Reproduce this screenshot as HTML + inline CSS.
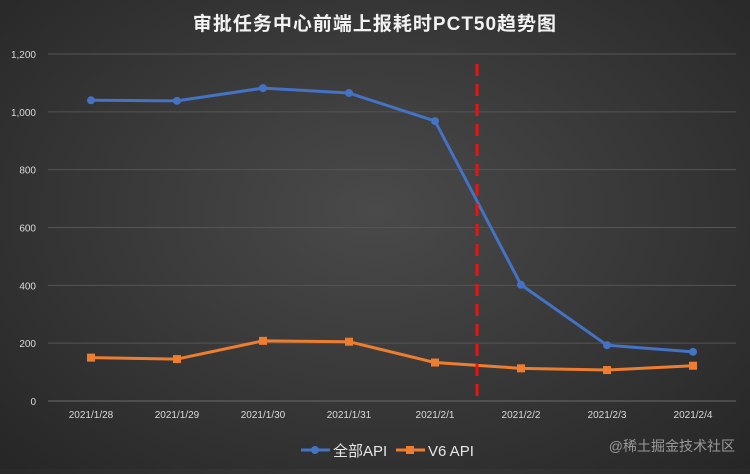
<!DOCTYPE html>
<html><head><meta charset="utf-8"><style>
html,body{margin:0;padding:0;}
body{width:750px;height:469px;overflow:hidden;background:radial-gradient(ellipse at 50% 45%,#4a4a4a 0%,#3a3a3a 45%,#262626 100%);font-family:"Liberation Sans","Noto Sans CJK SC",sans-serif;}
svg text{font-family:"Liberation Sans","Noto Sans CJK SC",sans-serif;}
</style></head><body>
<svg id="chart" width="750" height="469">
<text x="375" y="30" fill="#f2f2f2" font-size="19" font-weight="bold" text-anchor="middle" style="letter-spacing:1px">审批任务中心前端上报耗时PCT50趋势图</text>
<g id="grid"></g><g id="xl"></g><g id="series"></g>
<line x1="477" y1="64" x2="477" y2="401" stroke="#ee1111" stroke-width="3" stroke-dasharray="12,8"/>
<g>
<g>
<line x1="301" y1="450" x2="330" y2="450" stroke="#4472c4" stroke-width="3"/><circle cx="315" cy="450" r="4" fill="#4472c4"/>
<text x="333" y="456" fill="#e6e6e6" font-size="15">全部API</text></g>
<g>
<line x1="396" y1="450" x2="425" y2="450" stroke="#ed7d31" stroke-width="3"/><rect x="406" y="446" width="8" height="8" fill="#ed7d31"/>
<text x="428" y="456" fill="#e6e6e6" font-size="15">V6 API</text></g>
</g>
<text x="735" y="451" fill="#9a9a9a" font-size="14" text-anchor="end">@稀土掘金技术社区</text>
</svg>
<script>
const categories=["2021/1/28","2021/1/29","2021/1/30","2021/1/31","2021/2/1","2021/2/2","2021/2/3","2021/2/4"];
const allApi=[1040,1038,1082,1065,968,402,193,170];
const v6Api=[150,145,208,205,133,113,107,122];
const yTicks=[0,200,400,600,800,1000,1200];
const yTickLabels=["0","200","400","600","800","1,000","1,200"];
const NS="http://www.w3.org/2000/svg";
const L=48,R=736,T=54,B=401,yMax=1200;
function x(i){return L+(R-L)/categories.length*(i+0.5);}
function y(v){return B-(B-T)*v/yMax;}
function mk(tag,attrs,parent){const e=document.createElementNS(NS,tag);for(const k in attrs)e.setAttribute(k,attrs[k]);parent.appendChild(e);return e;}
const grid=document.getElementById('grid'),xl=document.getElementById('xl'),ser=document.getElementById('series');
yTicks.forEach((t,i)=>{
 const ln=mk('line',{x1:L,x2:R,y1:y(t),y2:y(t),stroke:t===0?'#6a6a6a':'#555','stroke-width':1},grid);
 
 
 const tx=mk('text',{x:36,y:y(t)+4,fill:'#d9d9d9','font-size':10,'text-anchor':'end'},grid);
 tx.textContent=yTickLabels[i];
 
 
});
categories.forEach((c,i)=>{
 const tx=mk('text',{x:x(i),y:418,fill:'#d9d9d9','font-size':10,'text-anchor':'middle'},xl);
 tx.textContent=c;
 
 
});
function draw(vals,color,name,sq){
 const g=mk('g',{},ser);
 
 
 const p=mk('polyline',{points:vals.map((v,i)=>x(i)+','+y(v)).join(' '),fill:'none',stroke:color,'stroke-width':3,'stroke-linejoin':'round'},g);
 
 
 vals.forEach((v,i)=>{
  const m=sq?mk('rect',{x:x(i)-4,y:y(v)-4,width:8,height:8,fill:color},g):mk('circle',{cx:x(i),cy:y(v),r:4,fill:color},g);
  
  
 });
}
draw(allApi,'#4472c4','all-api',false);
draw(v6Api,'#ed7d31','v6-api',true);
</script>
</body></html>
